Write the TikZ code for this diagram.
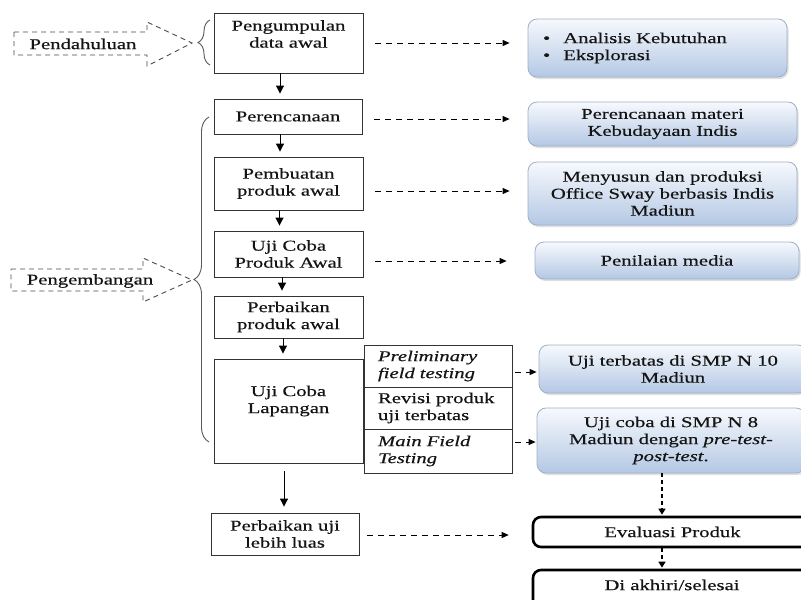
\documentclass[tikz,border=0pt]{standalone}
\usepackage{fontspec}
\setmainfont{Liberation Serif}[FakeStretch=1.38, FakeBold=0.4, ItalicFont={Liberation Serif Italic}, ItalicFeatures={FakeStretch=1.38, FakeBold=0.4}]
\usetikzlibrary{arrows.meta,decorations.pathreplacing,shadows,calc}
\definecolor{rtop}{HTML}{F7F9FD}
\definecolor{rbot}{HTML}{B4C8E4}
\definecolor{rbord}{HTML}{9DB0C9}
\begin{document}
\begin{tikzpicture}[x=1pt,y=-1pt,
  every node/.style={font=\fontsize{15}{17}\selectfont, text=black!92},
  pbox/.style={draw=black!80, line width=0.9pt, fill=white, inner sep=0pt, align=center},
  sbox/.style={pbox, minimum width=148pt, text width=120pt, align=left},
  rbox/.style={draw=rbord, line width=0.8pt, rounded corners=9pt, top color=rtop, bottom color=rbot, inner sep=0pt, align=center, drop shadow={shadow xshift=1.5pt, shadow yshift=-2pt, opacity=0.25}},
  ebox/.style={draw=black, line width=2.6pt, rounded corners=8pt, fill=white, inner sep=0pt, align=center},
  arr/.style={line width=1pt, -{Triangle[length=8pt,width=8pt]}, shorten >=5pt},
  darr/.style={line width=1pt, dash pattern=on 6pt off 5pt, -{Triangle[length=7pt,width=6pt]}},
  vdarr/.style={line width=1.4pt, dash pattern=on 4pt off 3pt, -{Triangle[length=6pt,width=7pt]}},
  phase/.style={draw=black!70, line width=0.9pt, dash pattern=on 5pt off 4pt},
  brc/.style={draw=black!65, line width=0.9pt, decorate, decoration={brace, amplitude=#1}},
]
\useasboundingbox (0,0) rectangle (801,600);
\fill[white] (0,0) rectangle (801,600);
\clip (0,0) rectangle (801,600);

% phase arrows
\draw[phase] (14,32) -- (147,32) -- (147,22) -- (192,43) -- (147,66) -- (147,55) -- (14,55) -- cycle;
\node (pend) at (83,44) {Pendahuluan};
\draw[phase] (11,269) -- (143,269) -- (143,258) -- (192,280) -- (143,302) -- (143,291) -- (11,291) -- cycle;
\node (peng) at (90,281) {Pengembangan};

% braces
\draw[brc=12pt] (210,65) -- (210,20);
\draw[brc=15pt] (209,442) -- (209,117);

% left column
\node[pbox, minimum width=149pt, minimum height=60pt] (b1) at (288.5,43) {};
\node[align=center] (t1) at (288.5,34) {Pengumpulan\\data awal};
\node[pbox, minimum width=148pt, minimum height=35pt] (b2) at (288,116.5) {Perencanaan};
\node[pbox, minimum width=149pt, minimum height=53pt] (b3) at (288.5,183.5) {Pembuatan\\produk awal};
\node[pbox, minimum width=149pt, minimum height=46pt] (b4) at (288.5,254) {Uji Coba\\Produk Awal};
\node[pbox, minimum width=149pt, minimum height=42pt] (b5) at (288.5,317) {Perbaikan\\produk awal};
\node[pbox, minimum width=149pt, minimum height=104pt] (b6) at (288.5,411) {};
\node[align=center] (t6) at (288.5,401) {Uji Coba\\Lapangan};
\node[sbox, minimum height=42pt] (s1) at (438,366) {\textit{Preliminary}\\\textit{field testing}};
\node[sbox, minimum height=42pt] (s2) at (438,408) {Revisi produk\\uji terbatas};
\node[sbox, minimum height=44pt] (s3) at (438,451) {\textit{Main Field}\\\textit{Testing}};
\node[pbox, minimum width=148pt, minimum height=42pt] (b7) at (285,534) {Perbaikan uji\\lebih luas};

% right column
\node[rbox, minimum width=259pt, minimum height=58pt, text width=229pt, align=left] (r1) at (657.5,48) {\textbullet\hspace{13pt}Analisis Kebutuhan\\\textbullet\hspace{13pt}Eksplorasi};
\node[rbox, minimum width=269pt, minimum height=44pt] (r2) at (662.5,124) {Perencanaan materi\\Kebudayaan Indis};
\node[rbox, minimum width=269pt, minimum height=63pt] (r3) at (662.5,193.5) {Menyusun dan produksi\\Office Sway berbasis Indis\\Madiun};
\node[rbox, minimum width=264pt, minimum height=37pt] (r4) at (667,260.5) {Penilaian media};
\node[rbox, minimum width=268pt, minimum height=48pt] (r5) at (673,369) {Uji terbatas di SMP N 10\\Madiun};
\node[rbox, minimum width=268pt, minimum height=65pt] (r6) at (671,440.5) {Uji coba di SMP N 8\\Madiun dengan \textit{pre-test-}\\\textit{post-test}.};
\node[ebox, minimum width=279pt, minimum height=30pt] (r7) at (672.5,532) {Evaluasi Produk};
\node[ebox, minimum width=278pt, minimum height=42pt] (r8) at (672,591) {};
\node (t8) at (672,585) {Di akhiri/selesai};

% solid arrows
\draw[arr] ([xshift=-8.5pt]b1.south) -- ([xshift=-8.5pt]b1.south |- b2.north);
\draw[arr] ([xshift=-8pt]b2.south) -- ([xshift=-8pt]b2.south |- b3.north);
\draw[arr] ([xshift=-9pt]b3.south) -- ([xshift=-9pt]b3.south |- b4.north);
\draw[arr] ([xshift=-6.5pt]b4.south) -- ([xshift=-6.5pt]b4.south |- b5.north);
\draw[arr] ([xshift=-5.5pt]b5.south) -- ([xshift=-5.5pt]b5.south |- b6.north);
\draw[arr, shorten <=8pt, shorten >=6pt] ([xshift=-4.5pt]b6.south) -- ([xshift=-4.5pt]b6.south |- b7.north);

% dashed arrows
\draw[darr, shorten <=12pt, shorten >=18pt] (b1.east) -- (b1.east -| r1.west);
\draw[darr, shorten <=12pt, shorten >=18pt] ([yshift=-2.5pt]b2.east) -- ([yshift=-2.5pt]b2.east -| r2.west);
\draw[darr, shorten <=12pt, shorten >=18pt] ([yshift=-7.5pt]b3.east) -- ([yshift=-7.5pt]b3.east -| r3.west);
\draw[darr, shorten <=12pt, shorten >=28pt] ([yshift=-7pt]b4.east) -- ([yshift=-7pt]b4.east -| r4.west);
\draw[darr, shorten <=3pt, shorten >=2pt] ([yshift=-6pt]s1.east) -- ([yshift=-6pt]s1.east -| r5.west);
\draw[darr, shorten <=3pt, shorten >=1pt] ([yshift=9pt]s3.east) -- ([yshift=9pt]s3.east -| r6.west);
\draw[darr, shorten <=8pt, shorten >=23pt] ([yshift=-1pt]b7.east) -- ([yshift=-1pt]b7.east -| r7.west);
\draw[vdarr, shorten >=1pt] ([xshift=-9pt]r6.south) -- ([xshift=-9pt]r6.south |- r7.north);
\draw[vdarr, shorten >=1pt] ([xshift=-10.5pt]r7.south) -- ([xshift=-10.5pt]r7.south |- r8.north);
\end{tikzpicture}
\end{document}
